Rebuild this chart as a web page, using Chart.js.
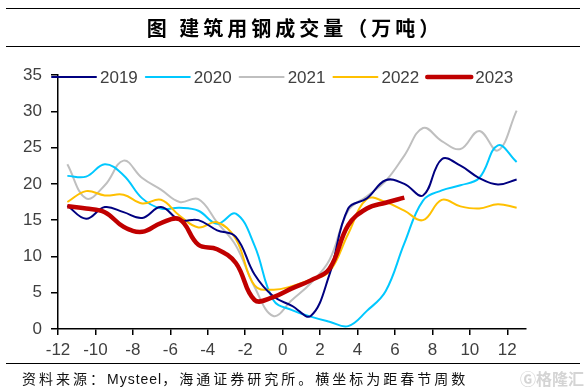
<!DOCTYPE html>
<html>
<head>
<meta charset="utf-8">
<script src="https://cdn.jsdelivr.net/npm/chart.js@4.4.1/dist/chart.umd.min.js"></script>
<style>
  html, body { margin: 0; padding: 0; background: #fff; }
  #wrap { position: relative; width: 586px; height: 391px; overflow: hidden; }
  #chart { position: absolute; left: 0; top: 0; }
  .rule { position: absolute; left: 6px; width: 574px; height: 0; border-top: 1.4px solid #000; }
  #title { position: absolute; left: 0; top: 16px; width: 590px; text-align: center;
           font: bold 20px "Noto Sans CJK SC", sans-serif; line-height: 24px; letter-spacing: 4px; color: #000; }
  #source { position: absolute; left: 22px; top: 369px; font: 14px "Noto Sans CJK SC", sans-serif;
            line-height: 18px; letter-spacing: 3px; color: #111; white-space: nowrap; }
  #source .en { font-family: "Liberation Sans", Arial, sans-serif; letter-spacing: 1px; }
  #mark { position: absolute; left: 520px; top: 368px; font: bold 16px "Noto Sans CJK SC", sans-serif;
          line-height: 20px; color: #d4d4d4; white-space: nowrap; }
</style>
</head>
<body>
<div id="wrap">
  <canvas id="chart" width="586" height="391"></canvas>
  <div class="rule" style="top:8px"></div>
  <div id="title">图 建筑用钢成交量（万吨）</div>
  <div class="rule" style="top:46px"></div>
  <div class="rule" style="top:363px"></div>
  <div id="source">资料来源：<span class="en">Mysteel</span>，海通证券研究所。横坐标为距春节周数</div>
  <div id="mark">Ⓖ格隆汇</div>
</div>
<script>
// weeks relative to Spring Festival
const weeks = [-11.5, -10.5, -9.5, -8.5, -7.5, -6.5, -5.5, -4.5, -3.5, -2.5, -1.5, -0.5,
               0.5, 1.5, 2.5, 3.5, 4.5, 5.5, 6.5, 7.5, 8.5, 9.5, 10.5, 11.5, 12.5];
const xTicks = [-12, -10, -8, -6, -4, -2, 0, 2, 4, 6, 8, 10, 12];
const yTicks = [0, 5, 10, 15, 20, 25, 30, 35];

const seriesNames = ['2019', '2020', '2021', '2022', '2023'];
const y2019 = [17.0, 15.2, 16.8, 16.1, 15.3, 16.8, 15.0, 15.0, 13.6, 12.7, 7.5, 4.5,
               3.2, 1.8, 7.5, 16.6, 18.0, 20.5, 20.0, 18.4, 23.4, 22.5, 20.8, 19.9, 20.6];
const y2020 = [21.1, 21.0, 22.7, 21.2, 18.0, 16.6, 16.7, 16.3, 14.5, 15.9, 11.5, 4.0,
               2.6, 1.7, 1.0, 0.4, 2.5, 5.2, 11.8, 17.7, 19.1, 19.8, 20.8, 25.3, 23.0];
const y2021 = [22.7, 18.0, 19.8, 23.2, 20.8, 19.2, 17.5, 17.9, 14.7, 11.5, 5.8, 1.8,
               4.0, 6.3, 9.5, 16.3, 18.3, 20.4, 23.9, 27.7, 25.9, 24.8, 27.3, 24.6, 30.1];
const y2022 = [17.5, 19.0, 18.4, 18.5, 17.3, 17.8, 15.6, 14.0, 14.7, 12.4, 6.0, 5.4,
               5.9, 6.8, 7.9, 13.1, 17.9, 17.5, 16.3, 15.0, 17.8, 16.9, 16.6, 17.2, 16.7];
const y2023 = [16.9, 16.6, 16.1, 14.1, 13.4, 14.6, 15.1, 11.6, 11.0, 9.1, 4.0, 4.4,
               5.6, 6.7, 8.3, 14.3, 16.6, 17.4, 18.1];

const colors = ['#000080', '#00C8FF', '#BFBFBF', '#FFC000', '#C00000'];
const widths = [2, 2, 2, 2, 4.5];
const drawOrder = [1, 3, 4, 2, 0];
const allSeries = [y2019, y2020, y2021, y2022, y2023];

const tickFont = { family: '"Liberation Sans", Arial, sans-serif', size: 17 };
const tickColor = '#404040';

// legend drawn by hand so line lengths / spacing match the original
const lineLegend = {
    id: 'lineLegend',
    afterDraw(chart) {
        const ctx = chart.ctx;
        let x = 52;
        const y = 77;
        ctx.save();
        ctx.font = '17px "Liberation Sans", Arial, sans-serif';
        ctx.textBaseline = 'middle';
        chart.data.datasets.forEach(ds => {
            ctx.strokeStyle = ds.borderColor;
            ctx.lineWidth = ds.borderWidth;
            ctx.lineCap = 'round';
            ctx.beginPath();
            ctx.moveTo(x, y);
            ctx.lineTo(x + 44, y);
            ctx.stroke();
            ctx.fillStyle = tickColor;
            ctx.fillText(ds.label, x + 48, y + 1);
            x += 48 + ctx.measureText(ds.label).width + 8;
        });
        ctx.restore();
    }
};

const ctx = document.getElementById('chart').getContext('2d');
new Chart(ctx, {
    type: 'line',
    data: {
        datasets: seriesNames.map((name, i) => ({
            label: name,
            data: allSeries[i].map((v, j) => ({ x: weeks[j], y: v })),
            borderColor: colors[i],
            backgroundColor: colors[i],
            borderWidth: widths[i],
            pointRadius: 0,
            tension: 0.4,
            fill: false,
            order: drawOrder[i]
        }))
    },
    options: {
        responsive: false,
        animation: false,
        layout: { padding: { top: 75, right: 60, bottom: 0, left: 0 } },
        plugins: {
            legend: { display: false },
            tooltip: { enabled: false }
        },
        scales: {
            x: {
                type: 'linear',
                min: -12,
                max: 13,
                afterBuildTicks: s => { s.ticks = xTicks.map(v => ({ value: v })); },
                afterFit: s => { s.height = 62; },
                grid: { display: true, drawOnChartArea: false, drawTicks: true, tickLength: 6, color: '#000', lineWidth: 1.5 },
                border: { display: true, color: '#000', width: 1.5 },
                ticks: { font: tickFont, color: tickColor, padding: 5, maxRotation: 0, autoSkip: false }
            },
            y: {
                min: 0,
                max: 35,
                afterBuildTicks: s => { s.ticks = yTicks.map(v => ({ value: v })); },
                afterFit: s => { s.width = 58; },
                grid: { display: true, drawOnChartArea: false, drawTicks: true, tickLength: 7, color: '#000', lineWidth: 1.5 },
                border: { display: true, color: '#000', width: 1.5 },
                ticks: { font: tickFont, color: tickColor, padding: 9 }
            }
        }
    },
    plugins: [lineLegend]
});
</script>
</body>
</html>
